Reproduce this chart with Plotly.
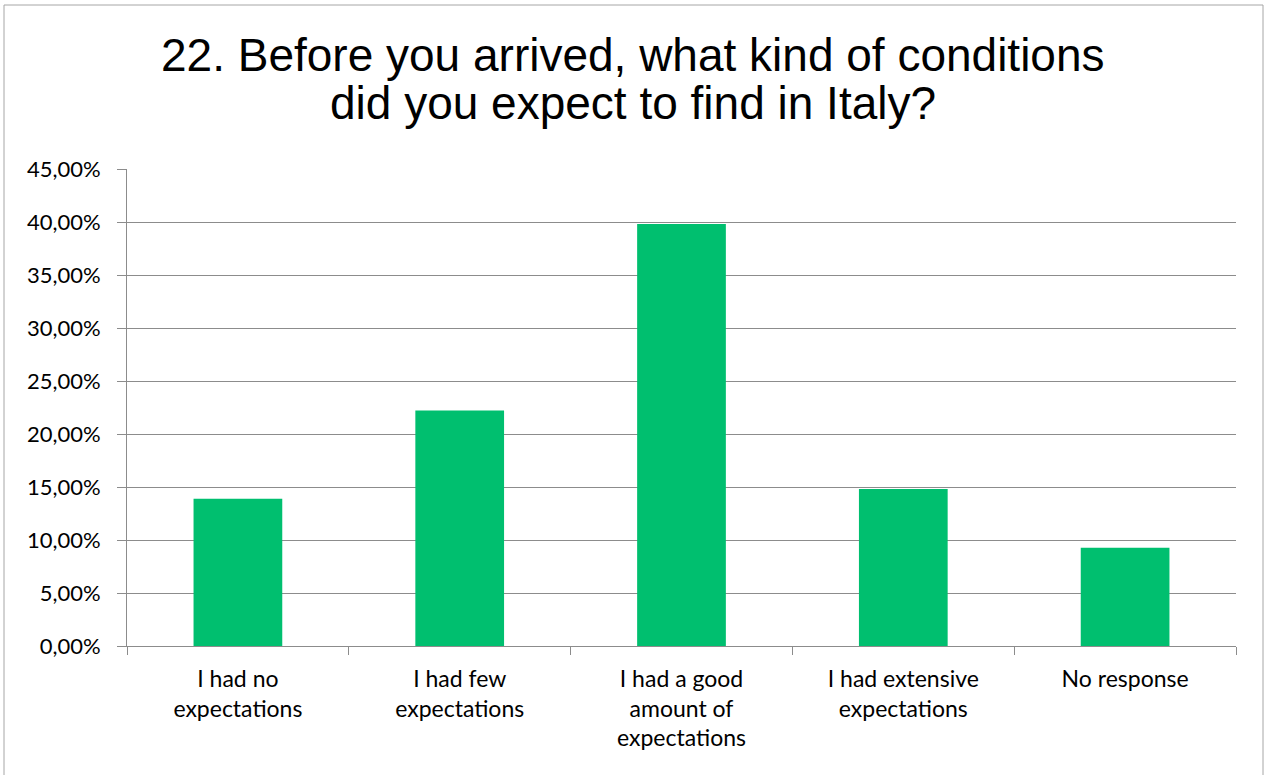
import plotly.graph_objects as go

# Survey answers and their shares of respondents
categories = [
    "I had no<br>expectations",
    "I had few<br>expectations",
    "I had a good<br>amount of<br>expectations",
    "I had extensive<br>expectations",
    "No response",
]
shares = [0.1389, 0.2222, 0.3981, 0.1481, 0.0926]
y_ticks = [0.0, 0.05, 0.10, 0.15, 0.20, 0.25, 0.30, 0.35, 0.40, 0.45]
title_lines = [
    "22. Before you arrived, what kind of conditions",
    "did you expect to find in Italy?",
]

W, H = 1264, 775
ML, MR, MT, MB = 127, 28, 169, 129
pw, ph = W - ML - MR, H - MT - MB

grid = "#8c8c8c"

fig = go.Figure(
    go.Bar(
        x=categories,
        y=shares,
        marker=dict(color="#00bf6f", line=dict(width=0)),
        width=0.4,
    )
)

fig.update_layout(
    width=W,
    height=H,
    margin=dict(l=ML, r=MR, t=MT, b=MB),
    paper_bgcolor="white",
    plot_bgcolor="white",
    separators=",.",
    showlegend=False,
    font=dict(family="Lato, Calibri, sans-serif", size=22, color="black"),
    bargap=0.6,
)

# two-line title, each line placed on its own baseline
for line, yc in zip(title_lines, [55, 103]):
    fig.add_annotation(
        text=line,
        xref="paper",
        yref="paper",
        x=(633 - ML) / pw,
        y=(H - MB - yc) / ph,
        xanchor="center",
        yanchor="middle",
        showarrow=False,
        font=dict(family="Liberation Sans, Arial", size=46, color="black"),
    )

fig.update_yaxes(
    range=[0, 0.45],
    tickvals=y_ticks,
    tickformat=".2%",
    showgrid=True,
    gridcolor=grid,
    gridwidth=1,
    showline=True,
    linecolor=grid,
    linewidth=1,
    ticks="outside",
    ticklen=9,
    tickcolor=grid,
    zeroline=False,
    ticklabelstandoff=12,
    tickfont=dict(size=22),
)

fig.update_xaxes(
    showline=True,
    linecolor=grid,
    linewidth=1,
    ticks="outside",
    ticklen=8,
    tickcolor=grid,
    tickson="boundaries",
    showgrid=False,
    ticklabelstandoff=12,
    tickfont=dict(size=23),
)

# outer chart frame
fig.add_shape(
    type="rect",
    xref="paper",
    yref="paper",
    x0=(4 - ML) / pw,
    x1=(1263 - ML) / pw,
    y0=(H - MB - 790) / ph,
    y1=(H - MB - 5) / ph,
    line=dict(color="#a6a6a6", width=1),
    layer="below",
)

fig.write_html("out.html")
